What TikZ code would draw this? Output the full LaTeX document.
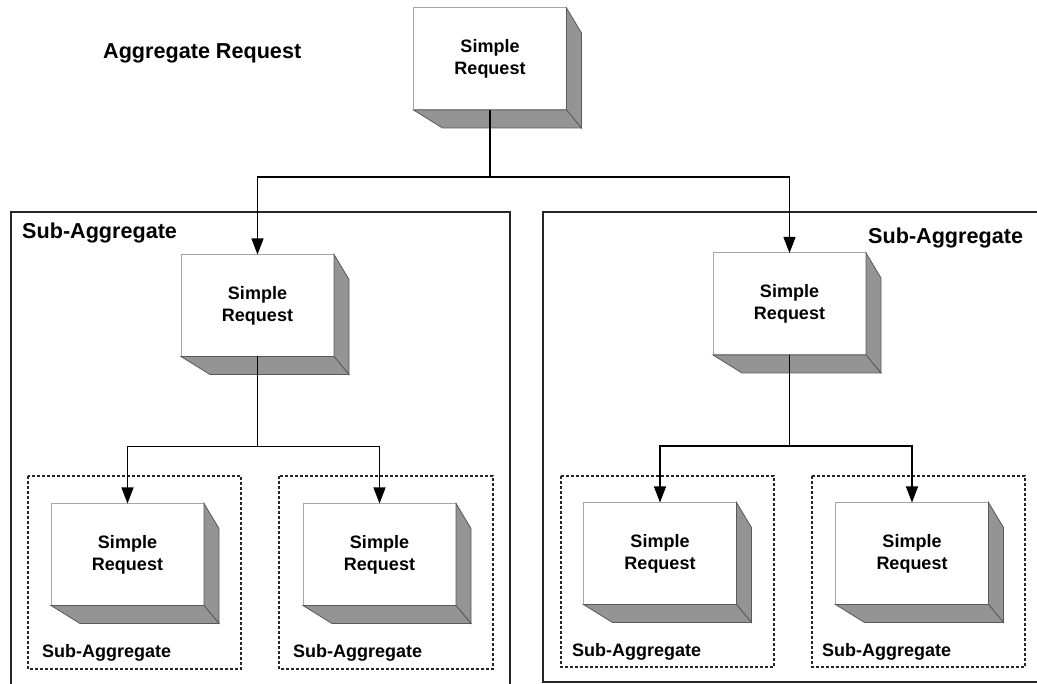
\documentclass[tikz,border=0pt]{standalone}
\usepackage{fontspec}
\setmainfont{Liberation Sans}
\usetikzlibrary{calc,arrows.meta}
\def\reqsides(#1){
	\draw[line width=0.8pt, color=black!65, fill=black!42] (#1.north east) -- ++(15,25) -- ($(#1.south east)+(15,18)$) -- (#1.south east) -- cycle;
	\draw[line width=0.8pt, color=black!65, fill=black!42] (#1.south west) -- (#1.south east) -- ++(15,18) -- ($(#1.south west)+(29,18)$) -- cycle;
}
\tikzset{
	request/.style={draw=black!35, line width=1pt, fill=white, minimum width=153pt, minimum height=102pt,
		inner sep=0pt, outer sep=0pt, align=center, font=\bfseries\fontsize{18}{22}\selectfont},
	biglabel/.style={anchor=west, inner sep=0pt, font=\bfseries\fontsize{21.6}{26}\selectfont},
	smalllabel/.style={anchor=west, inner sep=0pt, font=\bfseries\fontsize{18}{22}\selectfont},
	frame/.style={line width=2pt, color=black!85},
	subframe/.style={line width=1.6pt, color=black!85, dash pattern=on 3pt off 2pt},
	link/.style={line width=1.2pt, -{Triangle[length=16pt,width=12pt]}}
}

\begin{document}
\begin{tikzpicture}[x=1pt, y=-1pt]
			%%%%% START %%%%%
			
			\useasboundingbox (0, 0) rectangle (1037, 684);
			\clip (0, 0) rectangle (1037, 684);
			
			\draw[frame] (11, 212) rectangle (510, 700);
			\draw[frame] (543, 212) rectangle (1060, 682);
			
			\draw[subframe] (28, 476) rectangle (241, 669);
			\draw[subframe] (279, 476) rectangle (493, 669);
			\draw[subframe] (561, 476) rectangle (774, 667);
			\draw[subframe] (812, 476) rectangle (1025, 667);
			
			\node[request] (top) at (490, 59) {Simple\\Request};
			\reqsides(top)
			
			\node[request] (subL) at (257.5, 305.5) {Simple\\Request};
			\reqsides(subL)
			\node[request] (subR) at (789.5, 304) {Simple\\Request};
			\reqsides(subR)
			
			\node[request] (subLa) at (127.5, 554.5) {Simple\\Request};
			\reqsides(subLa)
			\node[request] (subLb) at (379.5, 554.5) {Simple\\Request};
			\reqsides(subLb)
			\node[request] (subRa) at (660, 553.5) {Simple\\Request};
			\reqsides(subRa)
			\node[request] (subRb) at (912, 553.5) {Simple\\Request};
			\reqsides(subRb)
			
			\draw[link] (top.south) -- ++(0, 67) -| (subL.north);
			\draw[link] (top.south) -- ++(0, 67) -| (subR.north);
			\draw[link] (subL.south) -- ++(0, 90) -| (subLa.north);
			\draw[link] (subL.south) -- ++(0, 90) -| (subLb.north);
			\draw[link] (subR.south) -- ++(0, 91) -| (subRa.north);
			\draw[link] (subR.south) -- ++(0, 91) -| (subRb.north);
			
			\node[biglabel] (aggr) at (103, 53) {Aggregate Request};
			\node[biglabel] (labL) at (22, 233) {Sub-Aggregate};
			\node[biglabel] (labR) at (868, 238) {Sub-Aggregate};
			
			\node[smalllabel] (labLa) at (42, 653) {Sub-Aggregate};
			\node[smalllabel] (labLb) at (293, 653) {Sub-Aggregate};
			\node[smalllabel] (labRa) at (572, 652) {Sub-Aggregate};
			\node[smalllabel] (labRb) at (822, 652) {Sub-Aggregate};
			
			%%%%% END %%%%%
		\end{tikzpicture}
\end{document}
